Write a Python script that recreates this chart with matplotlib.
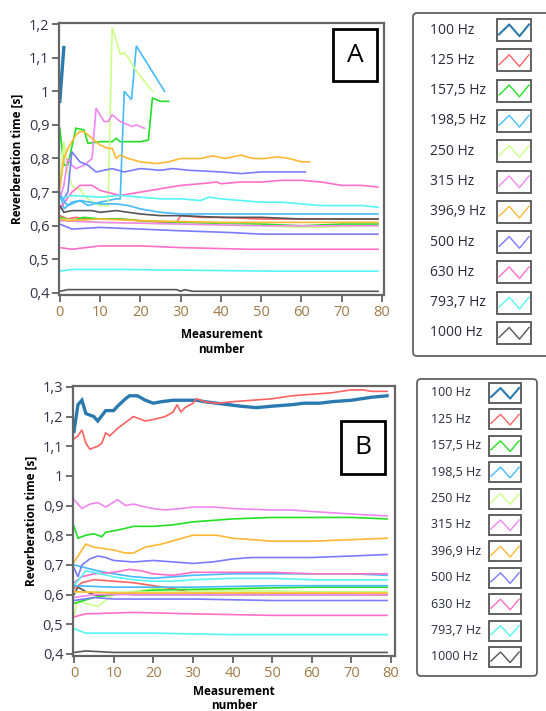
import matplotlib
matplotlib.use("Agg")
import matplotlib.pyplot as plt
from matplotlib.patches import FancyBboxPatch, Rectangle

# legend entries (same for both panels)
legend_labels = ['100 Hz', '125 Hz', '157,5 Hz', '198,5 Hz', '250 Hz', '315 Hz',
                 '396,9 Hz', '500 Hz', '630 Hz', '793,7 Hz', '1000 Hz']
legend_colors = ['#2a7ab0', '#ff6262', '#22e022', '#44bbff', '#ccff88', '#ee88ee',
                 '#ffb733', '#7b7bff', '#ff6ec7', '#55f5f5', '#555555']

# ---- panel A: (x, y) per band, colours cycle through the legend colours ----
A_100 = ([0, 1], [0.97, 1.13])
A_125 = ([0, 2, 4, 6, 10, 15, 20, 25, 29, 30, 35, 40, 50, 60, 70, 79],
         [0.63, 0.62, 0.625, 0.62, 0.62, 0.62, 0.615, 0.61, 0.61, 0.63, 0.625, 0.625, 0.62, 0.62, 0.62, 0.62])
A_157 = ([0, 1, 2, 4, 6, 7, 10, 13, 14, 15, 20, 22, 23, 25, 27],
         [0.89, 0.78, 0.78, 0.89, 0.885, 0.845, 0.85, 0.85, 0.86, 0.85, 0.85, 0.855, 0.98, 0.97, 0.97])
A_198 = ([0, 1, 3, 5, 7, 10, 14, 15, 16, 17.8, 19, 26],
         [0.70, 0.65, 0.67, 0.675, 0.66, 0.67, 0.68, 0.68, 1.0, 0.975, 1.135, 1.0])
A_250 = ([0, 1, 2, 3, 4, 5, 6, 7, 8, 10, 12, 13, 14, 15, 16, 17, 19, 21, 23],
         [0.72, 0.85, 0.76, 0.72, 0.71, 0.71, 0.69, 0.68, 0.67, 0.66, 0.66, 1.19, 1.15, 1.11, 1.115, 1.10, 1.06, 1.03, 1.0])
A_315 = ([0, 1, 2, 3, 4, 5, 6, 7, 8, 9, 10, 11, 12, 13, 14, 15, 16, 17, 18, 19, 20, 21],
         [0.68, 0.72, 0.80, 0.78, 0.77, 0.775, 0.78, 0.79, 0.80, 0.95, 0.93, 0.91, 0.91, 0.93, 0.92, 0.91,
          0.905, 0.90, 0.895, 0.90, 0.895, 0.89])
A_397 = ([0, 1, 2, 4, 5, 6, 8, 10, 12, 13, 14, 15, 17, 20, 24, 27, 30, 35, 38, 41, 45, 48, 51, 54, 57, 60, 62],
         [0.71, 0.80, 0.83, 0.87, 0.88, 0.88, 0.86, 0.84, 0.83, 0.83, 0.80, 0.81, 0.80, 0.79, 0.785, 0.79,
          0.80, 0.80, 0.808, 0.80, 0.81, 0.80, 0.80, 0.805, 0.80, 0.79, 0.79])
A_500 = ([0, 1, 2, 3, 5, 7, 9, 11, 13, 16, 20, 25, 28, 32, 40, 45, 50, 55, 61],
         [0.69, 0.68, 0.70, 0.82, 0.79, 0.78, 0.76, 0.765, 0.77, 0.76, 0.77, 0.765, 0.77, 0.765, 0.76, 0.755,
          0.76, 0.76, 0.76])
A_630 = ([0, 3, 5, 8, 10, 15, 20, 25, 30, 35, 39, 40, 45, 50, 55, 60, 65, 70, 75, 79],
         [0.65, 0.70, 0.72, 0.72, 0.705, 0.69, 0.70, 0.71, 0.72, 0.725, 0.73, 0.725, 0.73, 0.73, 0.735,
          0.735, 0.73, 0.72, 0.72, 0.715])
A_794 = ([0, 3, 10, 15, 20, 25, 30, 35, 37, 40, 45, 50, 55, 60, 65, 70, 75, 79],
         [0.68, 0.69, 0.685, 0.69, 0.685, 0.68, 0.68, 0.675, 0.685, 0.68, 0.675, 0.67, 0.67, 0.665, 0.66,
          0.66, 0.66, 0.655])
A_1000 = ([0, 1, 3, 8, 10, 14, 17, 20, 25, 30, 40, 50, 60, 70, 79],
          [0.66, 0.64, 0.645, 0.645, 0.64, 0.645, 0.64, 0.635, 0.63, 0.63, 0.625, 0.625, 0.62, 0.62, 0.62])
A_2000 = ([0, 3, 6, 10, 15, 20, 30, 40, 50, 60, 70, 79],
          [0.625, 0.615, 0.625, 0.62, 0.62, 0.615, 0.61, 0.605, 0.605, 0.60, 0.605, 0.605])
A_2500 = ([0, 2, 5, 10, 14, 17, 20, 25, 30, 40, 50, 60, 70, 79],
          [0.69, 0.66, 0.675, 0.665, 0.665, 0.66, 0.65, 0.64, 0.635, 0.635, 0.635, 0.635, 0.635, 0.635])
A_3150 = ([0, 10, 30, 50, 60, 79], [0.62, 0.61, 0.605, 0.60, 0.595, 0.60])
A_4000 = ([0, 10, 30, 50, 79], [0.615, 0.61, 0.605, 0.60, 0.60])
A_5000 = ([0, 2, 10, 20, 40, 60, 79], [0.62, 0.615, 0.62, 0.615, 0.61, 0.61, 0.61])
A_6300 = ([0, 3, 10, 20, 30, 42, 50, 79], [0.605, 0.59, 0.595, 0.59, 0.585, 0.58, 0.575, 0.575])
A_8000 = ([0, 3, 10, 20, 30, 47, 79], [0.535, 0.53, 0.54, 0.54, 0.535, 0.53, 0.53])
A_10000 = ([0, 3, 15, 52, 79], [0.465, 0.47, 0.47, 0.465, 0.465])
A_12500 = ([0, 2, 29, 30, 31, 33, 79], [0.405, 0.41, 0.41, 0.405, 0.41, 0.405, 0.405])
panel_a = [A_100, A_125, A_157, A_198, A_250, A_315, A_397, A_500, A_630, A_794, A_1000,
           None, None, A_2000, A_2500, A_3150, A_4000, A_5000, A_6300, A_8000, A_10000, A_12500]

# ---- panel B ----
B_100 = ([0, 1, 2, 3, 5, 6, 8, 10, 11, 13, 14, 16, 18, 20, 22, 25, 28, 31, 33, 36, 39, 42, 46, 50, 55, 58,
          62, 65, 70, 75, 79],
         [1.15, 1.24, 1.255, 1.21, 1.2, 1.185, 1.22, 1.22, 1.235, 1.26, 1.27, 1.27, 1.255, 1.245, 1.25,
          1.255, 1.255, 1.255, 1.25, 1.245, 1.24, 1.235, 1.23, 1.235, 1.24, 1.245, 1.245, 1.25, 1.255,
          1.265, 1.27])
B_125 = ([0, 1, 2, 3, 4, 6, 7, 8, 9, 11, 13, 15, 16, 18, 20, 23, 25, 26, 27, 28, 30, 31, 33, 36, 40, 45,
          50, 55, 60, 65, 70, 73, 75, 79],
         [1.125, 1.135, 1.155, 1.11, 1.09, 1.1, 1.11, 1.145, 1.135, 1.16, 1.18, 1.2, 1.195, 1.185, 1.19,
          1.2, 1.215, 1.24, 1.215, 1.23, 1.245, 1.26, 1.25, 1.245, 1.25, 1.255, 1.26, 1.27, 1.275, 1.28,
          1.29, 1.29, 1.285, 1.285])
B_157 = ([0, 1, 3, 5, 7, 8, 12, 15, 20, 25, 30, 35, 40, 50, 60, 70, 79],
         [0.83, 0.79, 0.80, 0.805, 0.795, 0.81, 0.82, 0.83, 0.83, 0.835, 0.845, 0.85, 0.855, 0.86, 0.86,
          0.86, 0.855])
B_198 = ([0, 3, 6, 10, 15, 20, 30, 40, 50, 60, 70, 79],
         [0.70, 0.69, 0.68, 0.67, 0.66, 0.655, 0.665, 0.67, 0.67, 0.67, 0.67, 0.665])
B_250 = ([0, 1, 3, 6, 8, 10, 15, 20, 25, 30, 40, 60, 79],
         [0.53, 0.58, 0.57, 0.56, 0.58, 0.60, 0.61, 0.62, 0.62, 0.615, 0.615, 0.61, 0.61])
B_315 = ([0, 2, 4, 6, 8, 11, 13, 15, 18, 20, 23, 27, 30, 35, 40, 50, 55, 60, 66, 72, 79],
         [0.92, 0.89, 0.905, 0.91, 0.895, 0.92, 0.90, 0.905, 0.895, 0.89, 0.885, 0.89, 0.895, 0.895, 0.89,
          0.885, 0.885, 0.88, 0.875, 0.87, 0.865])
B_397 = ([0, 2, 3, 5, 10, 13, 15, 18, 22, 26, 30, 36, 40, 45, 50, 60, 70, 79],
         [0.71, 0.75, 0.77, 0.76, 0.75, 0.74, 0.74, 0.76, 0.77, 0.785, 0.80, 0.80, 0.79, 0.785, 0.78, 0.78,
          0.785, 0.79])
B_500 = ([0, 1, 2, 4, 6, 8, 10, 15, 20, 25, 30, 35, 40, 45, 50, 60, 70, 79],
         [0.69, 0.66, 0.70, 0.72, 0.73, 0.725, 0.715, 0.71, 0.715, 0.71, 0.705, 0.71, 0.72, 0.725, 0.725,
          0.725, 0.73, 0.735])
B_630 = ([0, 2, 5, 10, 14, 17, 20, 25, 30, 40, 50, 60, 70, 79],
         [0.64, 0.66, 0.67, 0.675, 0.685, 0.68, 0.67, 0.665, 0.675, 0.675, 0.675, 0.67, 0.67, 0.67])
B_794 = ([0, 3, 5, 10, 15, 20, 25, 30, 40, 50, 60, 70, 79],
         [0.63, 0.68, 0.675, 0.66, 0.65, 0.645, 0.645, 0.65, 0.655, 0.655, 0.65, 0.65, 0.65])
B_1000 = ([0, 1, 3, 5, 7, 10, 15, 79], [0.60, 0.625, 0.61, 0.60, 0.595, 0.605, 0.60, 0.60])
B_1600 = ([0, 2, 5, 10, 15, 25, 30, 79], [0.62, 0.64, 0.65, 0.645, 0.64, 0.62, 0.605, 0.60])
B_2000 = ([0, 5, 10, 20, 40, 60, 79], [0.57, 0.59, 0.60, 0.615, 0.62, 0.625, 0.625])
B_2500 = ([0, 10, 30, 50, 79], [0.63, 0.625, 0.625, 0.63, 0.63])
B_3150 = ([0, 10, 30, 79], [0.61, 0.61, 0.61, 0.61])
B_4000 = ([0, 5, 20, 79], [0.59, 0.60, 0.60, 0.60])
B_5000 = ([0, 10, 30, 60, 79], [0.61, 0.605, 0.605, 0.605, 0.605])
B_6300 = ([0, 5, 10, 30, 50, 79], [0.58, 0.59, 0.585, 0.585, 0.58, 0.58])
B_8000 = ([0, 3, 15, 30, 50, 79], [0.525, 0.535, 0.54, 0.535, 0.53, 0.53])
B_10000 = ([0, 3, 20, 40, 79], [0.485, 0.47, 0.47, 0.465, 0.465])
B_12500 = ([0, 3, 10, 79], [0.405, 0.41, 0.405, 0.405])
panel_b = [B_100, B_125, B_157, B_198, B_250, B_315, B_397, B_500, B_630, B_794, B_1000,
           None, B_1600, B_2000, B_2500, B_3150, B_4000, B_5000, B_6300, B_8000, B_10000, B_12500]

W, H = 546, 711
fig = plt.figure(figsize=(W / 100, H / 100), dpi=100)
plt.rcParams['font.family'] = ['Open Sans', 'DejaVu Sans']


def px_axes(x0, y0, x1, y1):
    # pixel box (top-left origin) -> figure axes
    return fig.add_axes([x0 / W, 1 - y1 / H, (x1 - x0) / W, (y1 - y0) / H])


def draw_panel(box, series, xlim, ylim, yticks, yticklabels, letter, letter_box, xpad):
    ax = px_axes(*box)
    for i, s in enumerate(series):
        if s is None:
            continue
        c = legend_colors[i % 11]
        lw = 2.4 if i == 0 else 1.2
        ax.plot(s[0], s[1], color=c, lw=lw, solid_joinstyle='miter')
    ax.set_xlim(*xlim)
    ax.set_ylim(*ylim)
    ax.set_xticks(range(0, 81, 10))
    ax.set_xticklabels([str(v) for v in range(0, 81, 10)], color='#a07a45', fontsize=10.5)
    ax.set_yticks(yticks)
    ax.set_yticklabels(yticklabels, color='#3a3048', fontsize=10.5)
    ax.tick_params(direction='out', length=5, width=1.2, color='#555555', pad=2)
    for sp in ax.spines.values():
        sp.set_color('#666666')
        sp.set_linewidth(1.6)
    ax.set_ylabel('Reverberation time [s]', fontsize=8.5, fontweight='bold', labelpad=4)
    ax.set_xlabel('Measurement\nnumber', fontsize=8.5, fontweight='bold', labelpad=xpad, linespacing=1.15)
    # letter box
    lx0, ly0, lx1, ly1 = letter_box
    bx = box[0]
    by = box[1]
    fw = box[2] - box[0]
    fh = box[3] - box[1]
    ax.add_patch(Rectangle(((lx0 - bx) / fw, 1 - (ly1 - by) / fh), (lx1 - lx0) / fw, (ly1 - ly0) / fh,
                           transform=ax.transAxes, fill=True, facecolor='white', edgecolor='black', lw=2,
                           zorder=5))
    ax.text(((lx0 + lx1) / 2 - bx) / fw, 1 - ((ly0 + ly1) / 2 - by) / fh, letter,
            transform=ax.transAxes, ha='center', va='center', fontsize=19, zorder=6)
    return ax


def draw_legend(box, row0, row1, text_x, sw_x0, sw_x1, sw_h, fs):
    lax = px_axes(0, 0, W, H)
    lax.set_xlim(0, W)
    lax.set_ylim(H, 0)
    lax.axis('off')
    x0, y0, x1, y1 = box
    lax.add_patch(FancyBboxPatch((x0, y0), x1 - x0, y1 - y0, boxstyle='round,pad=0,rounding_size=4',
                                 facecolor='white', edgecolor='#555555', lw=1.2))
    step = (row1 - row0) / 10
    for i, (lab, c) in enumerate(zip(legend_labels, legend_colors)):
        yc = row0 + i * step
        lax.text(text_x, yc, lab, fontsize=fs, va='center', ha='left', color='#2a2a3a')
        lax.add_patch(Rectangle((sw_x0, yc - sw_h / 2), sw_x1 - sw_x0, sw_h, facecolor='white',
                                edgecolor='#555555', lw=1.3))
        w = sw_x1 - sw_x0
        zx = [sw_x0 + w * f for f in (0.06, 0.36, 0.66, 0.94)]
        zy = [yc + sw_h * f for f in (0.2, -0.25, 0.28, -0.25)]
        lax.plot(zx, zy, color=c, lw=1.5 if i == 0 else 1.0)


draw_panel((59, 23, 384, 295), panel_a, (-0.2, 80.5), (0.394, 1.203),
           [0.4, 0.5, 0.6, 0.7, 0.8, 0.9, 1.0, 1.1, 1.2],
           ['0,4', '0,5', '0,6', '0,7', '0,8', '0,9', '1', '1,1', '1,2'], 'A', (333, 29, 377, 81), 6)
draw_panel((73, 386, 395, 656), panel_b, (-0.25, 81.0), (0.393, 1.303),
           [0.4, 0.5, 0.6, 0.7, 0.8, 0.9, 1.0, 1.1, 1.2, 1.3],
           ['0,4', '0,5', '0,6', '0,7', '0,8', '0,9', '1', '1,1', '1,2', '1,3'], 'B', (341, 421, 385, 474), 3)

draw_legend((413, 13, 552, 356), 30, 333, 430, 497, 531, 22, 10)
draw_legend((417, 379, 537, 676), 393, 657, 431, 489, 521, 20, 9)

fig.savefig('out.png', dpi=100)
